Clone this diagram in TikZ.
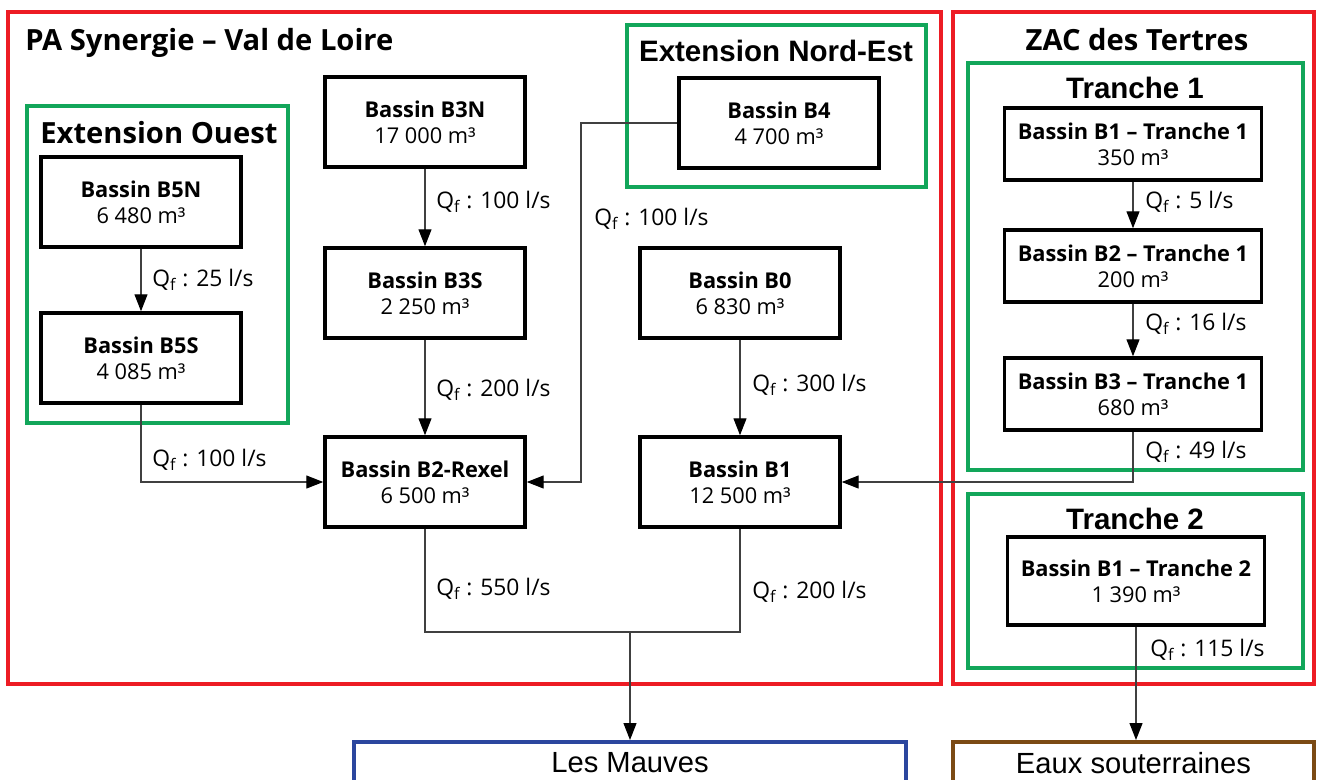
\documentclass[tikz,border=0pt]{standalone}
\usepackage{fontspec}
\setmainfont{Open Sans}
\newfontfamily\arialfont{Liberation Sans}
\usepackage{xcolor}
\usepackage{tikz}
\usetikzlibrary{positioning, arrows.meta, calc}

\definecolor{zonered}{HTML}{ED1C24}
\definecolor{zonegreen}{HTML}{12A65A}
\definecolor{riverblue}{HTML}{2B469E}
\definecolor{soilbrown}{HTML}{7B4A14}

\newcommand{\qf}{Q\textsubscript{f}}

\begin{document}
\begin{tikzpicture}[x=0.02cm, y=-0.02cm,
    bassin/.style={draw, rectangle, fill=white, line width=2pt, minimum width=4cm, minimum height=1.8cm, align=center, inner sep=0pt, font=\fontsize{12.4}{15}\selectfont},
    tranche/.style={bassin, minimum width=5.14cm, minimum height=1.44cm},
    flow/.style={black!75, line width=0.7pt, -{Triangle[length=0.34cm, width=0.26cm, black]}},
    pipe/.style={black!75, line width=0.7pt},
    debit/.style={anchor=base west, inner sep=0pt, font=\fontsize{13}{15}\selectfont},
    zone/.style={line width=2.2pt},
    zonetitle/.style={inner sep=0pt, font=\fontsize{16.6}{18}\selectfont\bfseries},
    arialtitle/.style={inner sep=0pt, font=\fontsize{16.8}{18}\selectfont\arialfont\bfseries}]
  \useasboundingbox (0,0) rectangle (1318,779);

  % zones
  \draw[zone, draw=zonered] (8,12) rectangle (941,684);
  \draw[zone, draw=zonered] (953,12) rectangle (1314,684);
  \draw[zone, draw=zonegreen] (27,106) rectangle (288,423);
  \draw[zone, draw=zonegreen] (627,25) rectangle (926,187);
  \draw[zone, draw=zonegreen] (968,63) rectangle (1303,470);
  \draw[zone, draw=zonegreen] (968,494) rectangle (1303,668);

  \node[zonetitle, anchor=base west] (tpa) at (25,50) {PA Synergie – Val de Loire};
  \node[zonetitle, anchor=base west] (touest) at (40,143) {Extension Ouest};
  \node[arialtitle, anchor=base] (tnord) at (776,61) {Extension Nord-Est};
  \node[zonetitle, anchor=base] (tzac) at (1137,50) {ZAC des Tertres};
  \node[arialtitle, anchor=base] (ttr1) at (1135,98) {Tranche 1};
  \node[arialtitle, anchor=base] (ttr2) at (1135,529) {Tranche 2};

  % bassins
  \node[bassin] (b5n) at (141,202) {\textbf{Bassin B5N}\\6 480 m³};
  \node[bassin] (b5s) at (141,358) {\textbf{Bassin B5S}\\4 085 m³};
  \node[bassin] (b3n) at (425,122) {\textbf{Bassin B3N}\\17 000 m³};
  \node[bassin] (b3s) at (425,293) {\textbf{Bassin B3S}\\2 250 m³};
  \node[bassin] (rexel) at (425,482) {\textbf{Bassin B2-Rexel}\\6 500 m³};
  \node[bassin] (b4) at (779,123) {\textbf{Bassin B4}\\4 700 m³};
  \node[bassin] (b0) at (740,293) {\textbf{Bassin B0}\\6 830 m³};
  \node[bassin] (b1) at (740,482) {\textbf{Bassin B1}\\12 500 m³};
  \node[tranche] (t1b1) at (1133,144) {\textbf{Bassin B1 – Tranche 1}\\350 m³};
  \node[tranche] (t1b2) at (1133,266) {\textbf{Bassin B2 – Tranche 1}\\200 m³};
  \node[tranche] (t1b3) at (1133,394) {\textbf{Bassin B3 – Tranche 1}\\680 m³};
  \node[tranche, minimum height=1.76cm] (t2b1) at (1136,581) {\textbf{Bassin B1 – Tranche 2}\\1 390 m³};

  % exutoires
  \node[draw=riverblue, zone, anchor=north, minimum width=11.04cm, minimum height=0.84cm, inner sep=0pt, font=\fontsize{16.6}{18}\selectfont\arialfont] (mauves) at (630,740) {Les Mauves};
  \node[draw=soilbrown, zone, anchor=north, minimum width=7.22cm, minimum height=0.84cm, inner sep=0pt, font=\fontsize{16.6}{18}\selectfont\arialfont] (eaux) at (1133.5,740) {Eaux souterraines};

  % liaisons
  \coordinate (k4) at (581,123);
  \coordinate (exut) at (630,632);
  \draw[flow] (b5n) -- (b5s);
  \draw[flow] (b3n) -- (b3s);
  \draw[flow] (b3s) -- (rexel);
  \draw[flow] (b0) -- (b1);
  \draw[flow] (b5s.south) |- (rexel.west);
  \draw[flow] (b4.west) -- (k4) |- (rexel.east);
  \draw[flow] (t1b3.south) |- (b1.east);
  \draw[pipe] (rexel.south) |- (exut) -| (b1.south);
  \draw[flow] (exut) -- (mauves.north);
  \draw[flow] (t1b1) -- (t1b2);
  \draw[flow] (t1b2) -- (t1b3);
  \draw[flow] (t2b1.south) -- (t2b1.south |- eaux.north);

  % debits
  \node[debit] (q5n) at (152,286) {\qf{} : 25 l/s};
  \node[debit] (q3n) at (436,208) {\qf{} : 100 l/s};
  \node[debit] (q3s) at (436,396) {\qf{} : 200 l/s};
  \node[debit] (q5s) at (152,466) {\qf{} : 100 l/s};
  \node[debit] (q4) at (594,225) {\qf{} : 100 l/s};
  \node[debit] (q0) at (752,391) {\qf{} : 300 l/s};
  \node[debit] (qrexel) at (436,595) {\qf{} : 550 l/s};
  \node[debit] (qb1) at (752,598) {\qf{} : 200 l/s};
  \node[debit] (qt1) at (1145,208) {\qf{} : 5 l/s};
  \node[debit] (qt2) at (1145,330) {\qf{} : 16 l/s};
  \node[debit] (qt3) at (1145,458) {\qf{} : 49 l/s};
  \node[debit] (qt4) at (1150,656) {\qf{} : 115 l/s};
\end{tikzpicture}
\end{document}
